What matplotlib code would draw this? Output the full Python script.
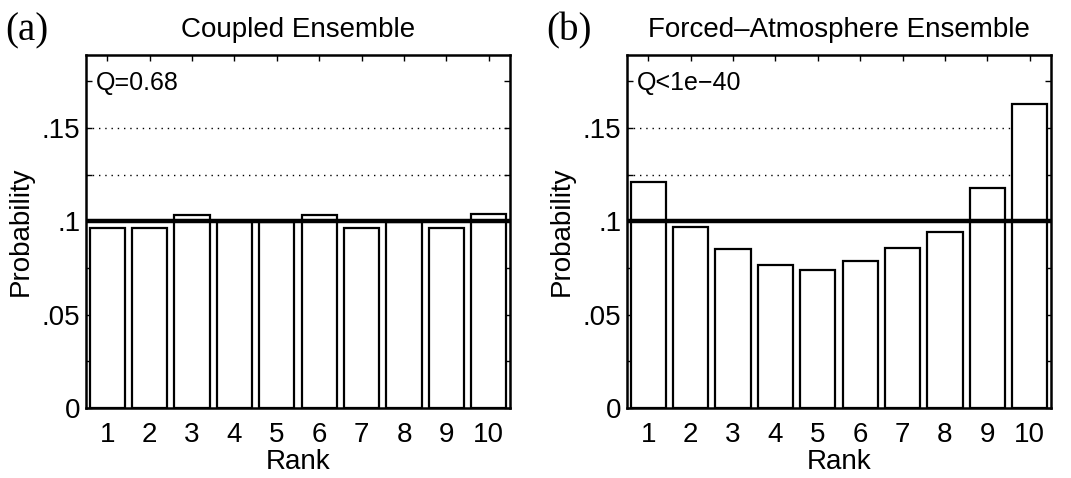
import matplotlib
matplotlib.use("Agg")
import matplotlib.pyplot as plt
from matplotlib.ticker import FixedLocator, FixedFormatter

ranks = [1, 2, 3, 4, 5, 6, 7, 8, 9, 10]
coupled = [0.0965, 0.0965, 0.1035, 0.0998, 0.0998, 0.1035, 0.0965, 0.0998, 0.0965, 0.104]
forced = [0.121, 0.0968, 0.0852, 0.0767, 0.0738, 0.0787, 0.0855, 0.0942, 0.118, 0.1625]

titles = ["Coupled Ensemble", "Forced\u2013Atmosphere Ensemble"]
panel_tags = ["(a)", "(b)"]
q_labels = ["Q=0.68", "Q<1e\u221240"]

ytick_vals = [0, 0.025, 0.05, 0.075, 0.1, 0.125, 0.15, 0.175]
ytick_text = ["0", "", ".05", "", ".1", "", ".15", ""]

plt.rcParams['font.family'] = ['Liberation Sans', 'DejaVu Sans']

fig = plt.figure(figsize=(10.71, 4.78), dpi=100)
lefts = [86 / 1071, 627 / 1071]
datasets = [coupled, forced]

for i in range(2):
    ax = fig.add_axes([lefts[i], 70 / 478, 424 / 1071, 353 / 478])
    ax.bar(ranks, datasets[i], width=0.83, color='white', edgecolor='black',
           linewidth=1.6, zorder=2)
    # reference line and dotted guides
    ax.axhline(0.1, color='black', linewidth=3.2, zorder=3)
    for yv in [0.125, 0.15]:
        ax.axhline(yv, color='black', linestyle=(0, (1, 3.5)), linewidth=1.0, zorder=1)

    ax.set_xlim(0.5, 10.5)
    ax.set_ylim(0, 0.189)
    ax.set_xticks(ranks)
    ax.set_xticklabels([str(r) for r in ranks])
    ax.yaxis.set_major_locator(FixedLocator(ytick_vals))
    ax.yaxis.set_major_formatter(FixedFormatter(ytick_text))
    ax.tick_params(direction='in', length=4, width=1, top=True, right=True,
                   labelsize=20)
    ax.tick_params(axis='x', pad=10)
    ax.tick_params(axis='y', pad=4)
    for sp in ax.spines.values():
        sp.set_linewidth(1.8)
        sp.set_zorder(4)

    ax.set_xlabel("Rank", fontsize=20, labelpad=1)
    ax.set_ylabel("Probability", fontsize=20, labelpad=6)
    ax.set_title(titles[i], fontsize=20, pad=13)
    ax.text(0.024, 0.9, q_labels[i], transform=ax.transAxes, fontsize=18,
            ha='left', va='baseline')

    fig.text(lefts[i] - 81 / 1071, 1 - 40 / 478, panel_tags[i],
             fontsize=28, family=['Liberation Serif', 'DejaVu Serif'],
             ha='left', va='baseline')

fig.savefig("out.png", dpi=100)
